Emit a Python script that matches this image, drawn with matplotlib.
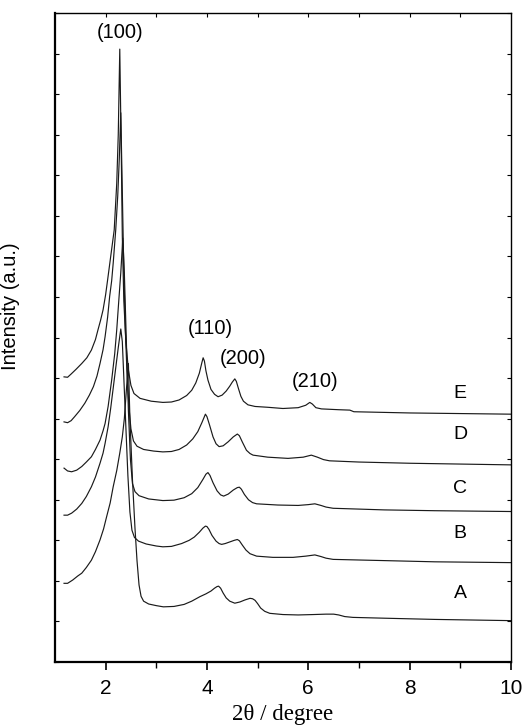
import numpy as np
import matplotlib
matplotlib.use("Agg")
import matplotlib.pyplot as plt
from matplotlib.ticker import MultipleLocator, FixedLocator

plt.rcParams['font.family'] = ['Liberation Sans', 'DejaVu Sans']

# XRD patterns, stacked (arbitrary units)
xA = [1.18, 1.25, 1.35, 1.45, 1.53, 1.62, 1.72, 1.80, 1.89, 1.96, 2.02, 2.09, 2.15, 2.22, 2.28, 2.33, 2.37, 2.41, 2.45,
      2.48, 2.53, 2.58, 2.62, 2.66, 2.70, 2.75, 2.85, 3.00, 3.14, 3.35, 3.55, 3.70, 3.86, 3.98, 4.08, 4.15, 4.20, 4.23,
      4.27, 4.32, 4.38, 4.45, 4.55, 4.65, 4.75, 4.85, 4.90, 4.95, 5.00, 5.06, 5.14, 5.24, 5.50, 5.80, 6.10, 6.35, 6.50,
      6.60, 6.72, 6.88, 7.50, 8.50, 10.0]
yA = [1.94, 1.94, 2.02, 2.12, 2.19, 2.33, 2.51, 2.72, 3.01, 3.28, 3.58, 3.92, 4.32, 4.72, 5.15, 5.55, 6.00, 6.70, 7.36,
      6.00, 4.50, 3.30, 2.50, 1.90, 1.62, 1.50, 1.43, 1.39, 1.36, 1.37, 1.42, 1.50, 1.61, 1.68, 1.75, 1.82, 1.86, 1.87,
      1.82, 1.70, 1.58, 1.50, 1.45, 1.48, 1.53, 1.57, 1.56, 1.52, 1.44, 1.33, 1.25, 1.20, 1.17, 1.16, 1.17, 1.18, 1.18,
      1.16, 1.12, 1.10, 1.08, 1.05, 1.02]

xB = [1.18, 1.25, 1.33, 1.43, 1.53, 1.62, 1.72, 1.80, 1.89, 1.95, 1.99, 2.05, 2.10, 2.15, 2.20, 2.25, 2.30, 2.33, 2.36,
      2.40, 2.44, 2.48, 2.52, 2.57, 2.65, 2.80, 3.00, 3.13, 3.30, 3.50, 3.65, 3.75, 3.85, 3.92, 3.97, 4.00, 4.04, 4.10,
      4.18, 4.24, 4.29, 4.36, 4.45, 4.54, 4.60, 4.64, 4.70, 4.77, 4.85, 4.98, 5.30, 5.70, 5.95, 6.13, 6.25, 6.35, 6.49,
      7.50, 8.50, 10.0]
yB = [3.62, 3.62, 3.67, 3.77, 3.91, 4.08, 4.32, 4.56, 4.90, 5.15, 5.39, 5.80, 6.25, 6.75, 7.25, 7.75, 8.21, 7.90, 7.00,
      5.80, 4.60, 3.70, 3.25, 3.07, 2.98, 2.91, 2.86, 2.84, 2.85, 2.92, 3.00, 3.08, 3.20, 3.30, 3.35, 3.34, 3.27, 3.12,
      2.98, 2.92, 2.90, 2.92, 2.96, 3.00, 3.02, 2.99, 2.88, 2.76, 2.67, 2.61, 2.58, 2.58, 2.61, 2.64, 2.60, 2.56, 2.53,
      2.50, 2.47, 2.45]

xC = [1.18, 1.25, 1.33, 1.43, 1.53, 1.62, 1.72, 1.80, 1.89, 1.95, 1.99, 2.05, 2.12, 2.18, 2.22, 2.26, 2.30, 2.34, 2.37,
      2.41, 2.45, 2.49, 2.53, 2.58, 2.66, 2.85, 3.13, 3.35, 3.55, 3.70, 3.82, 3.92, 3.98, 4.02, 4.06, 4.12, 4.20, 4.27,
      4.33, 4.42, 4.52, 4.60, 4.64, 4.68, 4.74, 4.82, 4.90, 4.98, 5.40, 5.80, 6.00, 6.13, 6.25, 6.35, 6.49, 7.50, 8.50,
      10.0]
yC = [4.78, 4.71, 4.69, 4.73, 4.82, 4.93, 5.06, 5.24, 5.47, 5.70, 5.88, 6.30, 6.95, 7.60, 8.19, 8.90, 9.60, 10.45, 9.60,
      7.90, 6.20, 5.00, 4.40, 4.20, 4.10, 4.02, 3.98, 3.99, 4.05, 4.15, 4.30, 4.50, 4.63, 4.67, 4.60, 4.42, 4.22, 4.12,
      4.09, 4.14, 4.24, 4.30, 4.31, 4.26, 4.13, 4.00, 3.93, 3.90, 3.87, 3.86, 3.88, 3.90, 3.86, 3.82, 3.79, 3.75, 3.73,
      3.71]

xD = [1.18, 1.25, 1.32, 1.39, 1.49, 1.59, 1.68, 1.76, 1.83, 1.89, 1.95, 1.99, 2.04, 2.08, 2.12, 2.15, 2.20, 2.24, 2.27,
      2.30, 2.33, 2.36, 2.39, 2.42, 2.46, 2.50, 2.55, 2.62, 2.75, 2.95, 3.13, 3.30, 3.45, 3.60, 3.72, 3.82, 3.90, 3.97,
      4.00, 4.05, 4.12, 4.18, 4.24, 4.32, 4.42, 4.52, 4.60, 4.64, 4.70, 4.78, 4.85, 4.91, 5.20, 5.60, 5.90, 6.06, 6.18,
      6.30, 6.42, 7.00, 8.00, 10.0]
yD = [5.92, 5.90, 5.95, 6.05, 6.20, 6.38, 6.58, 6.79, 7.05, 7.36, 7.70, 8.02, 8.50, 9.01, 9.40, 9.83, 10.65, 11.50, 12.40,
      13.54, 11.60, 9.60, 8.20, 7.20, 6.30, 5.75, 5.45, 5.32, 5.24, 5.20, 5.18, 5.19, 5.24, 5.35, 5.50, 5.68, 5.90, 6.11,
      6.05, 5.85, 5.55, 5.38, 5.31, 5.33, 5.43, 5.55, 5.62, 5.58, 5.42, 5.22, 5.14, 5.10, 5.05, 5.02, 5.05, 5.10, 5.05,
      4.99, 4.96, 4.93, 4.90, 4.86]

xE = [1.18, 1.25, 1.32, 1.42, 1.53, 1.63, 1.72, 1.80, 1.85, 1.90, 1.95, 2.00, 2.04, 2.10, 2.17, 2.22, 2.25, 2.28, 2.31,
      2.33, 2.36, 2.40, 2.45, 2.50, 2.56, 2.68, 2.90, 3.13, 3.30, 3.45, 3.60, 3.70, 3.78, 3.85, 3.90, 3.925, 3.95, 3.98,
      4.02, 4.08, 4.15, 4.22, 4.30, 4.38, 4.45, 4.50, 4.55, 4.58, 4.62, 4.67, 4.72, 4.81, 4.95, 5.20, 5.50, 5.80, 5.95,
      6.03, 6.08, 6.15, 6.26, 6.60, 6.82, 6.90, 8.00, 10.0]
yE = [7.03, 7.02, 7.10, 7.22, 7.36, 7.50, 7.69, 7.95, 8.19, 8.42, 8.68, 9.05, 9.42, 9.99, 10.65, 11.80, 13.00, 15.11, 12.50,
      10.50, 8.90, 7.90, 7.20, 6.82, 6.62, 6.50, 6.43, 6.40, 6.41, 6.46, 6.57, 6.70, 6.88, 7.12, 7.38, 7.50, 7.42, 7.18,
      6.95, 6.72, 6.60, 6.54, 6.58, 6.68, 6.80, 6.90, 6.98, 6.92, 6.75, 6.55, 6.43, 6.34, 6.30, 6.28, 6.25, 6.27, 6.33,
      6.40, 6.36, 6.27, 6.24, 6.22, 6.21, 6.17, 6.14, 6.11]

curves = {"A": (xA, yA), "B": (xB, yB), "C": (xC, yC), "D": (xD, yD), "E": (xE, yE)}

# label positions
sample_lbl_x = 9.0
sample_lbl_y = {"A": 1.69, "B": 3.17, "C": 4.28, "D": 5.60, "E": 6.62}
hkl = ["(100)", "(110)", "(200)", "(210)"]
hkl_x = [2.28, 4.06, 4.71, 6.13]
hkl_y = [15.53, 8.23, 7.49, 6.91]

fig = plt.figure(figsize=(5.23, 7.27), dpi=100)
ax = fig.add_axes([0.105, 0.0894, 0.872, 0.8927])

for name, (x, y) in curves.items():
    ax.plot(x, y, color="#1a1a1a", lw=0.85)
    ax.text(sample_lbl_x, sample_lbl_y[name], name, fontsize=14, ha="center", va="center")

for t, x, y in zip(hkl, hkl_x, hkl_y):
    ax.text(x, y, t, fontsize=14.5, ha="center", va="center")

ax.set_xlim(1, 10)
ax.set_ylim(0, 16)

ax.xaxis.set_major_locator(FixedLocator([2, 4, 6, 8, 10]))
ax.xaxis.set_minor_locator(FixedLocator([3, 5, 7, 9]))
ax.yaxis.set_major_locator(MultipleLocator(1))
ax.set_yticklabels([])
ax.tick_params(axis="x", which="major", direction="out", length=6, width=1.2, labelsize=15, pad=6)
ax.tick_params(axis="x", which="minor", direction="out", length=4, width=1.0)
ax.tick_params(axis="y", direction="in", length=3, width=0.8, right=True)

# small inward ticks on top spine at every integer
top = ax.secondary_xaxis("top")
top.set_xticks(range(2, 10))
top.tick_params(direction="in", length=3, width=0.8, labeltop=False)
top.spines["top"].set_visible(False)

for s in ["left", "bottom"]:
    ax.spines[s].set_linewidth(1.6)
for s in ["top", "right"]:
    ax.spines[s].set_linewidth(1.0)

ax.set_xlabel("2θ / degree", fontsize=16.5, family=["Liberation Serif", "DejaVu Serif"], labelpad=0)
ax.xaxis.set_label_coords(0.5, -0.065)
ax.set_ylabel("Intensity (a.u.)", fontsize=14.5)
ax.yaxis.set_label_coords(-0.077, 0.548)

plt.savefig("out.png", dpi=100)
